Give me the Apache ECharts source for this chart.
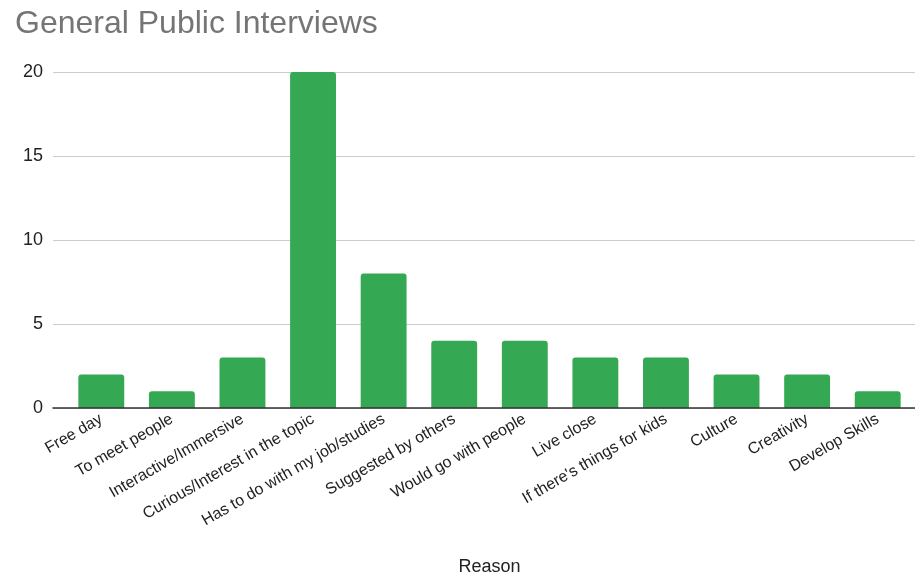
<!DOCTYPE html>
<html><head><meta charset="utf-8">
<script src="https://cdn.jsdelivr.net/npm/echarts@6/dist/echarts.min.js"></script>
<style>html,body{margin:0;padding:0;background:#fff}#c{width:915px;height:579px}</style>
</head><body><div id="c"></div>
<script>
const categories = ["Free day","To meet people","Interactive/Immersive","Curious/Interest in the topic","Has to do with my job/studies","Suggested by others","Would go with people","Live close","If there's things for kids","Culture","Creativity","Develop Skills"];
const values = [2,1,3,20,8,4,4,3,3,2,2,1];
const yTicks = [0,5,10,15,20];
const chart = echarts.init(document.getElementById('c'));
const yMin = yTicks[0], yMax = yTicks[yTicks.length-1];
chart.setOption({
  animation:false,
  title:{text:'General Public Interviews',left:10,top:3,textStyle:{fontFamily:'Liberation Sans',fontSize:32,fontWeight:'normal',color:'#757575'}},
  grid:[
    {left:66,right:2,top:72,bottom:171,outerBoundsMode:'none',containLabel:false},
    {left:53,right:0,top:72,bottom:171,outerBoundsMode:'none',containLabel:false}
  ],
  xAxis:[
    {type:'category',gridIndex:0,data:categories,name:'Reason',nameLocation:'middle',nameGap:150,
    nameTextStyle:{fontFamily:'Liberation Sans',fontSize:18,color:'#222'},
    axisTick:{show:false},axisLine:{show:false},
    axisLabel:{rotate:30,interval:0,fontFamily:'Liberation Sans',fontSize:16,color:'#222',margin:10}},
    {type:'value',gridIndex:1,min:0,max:1,axisLabel:{show:false},axisTick:{show:false},splitLine:{show:false},
     axisLine:{show:true,lineStyle:{color:'#333',width:1.5}},z:10}
  ],
  yAxis:[
    {type:'value',gridIndex:0,min:yMin,max:yMax,interval:5,axisLabel:{show:false},axisLine:{show:false},axisTick:{show:false},splitLine:{show:false}},
    {type:'value',gridIndex:1,min:yMin,max:yMax,interval:5,axisLine:{show:false},axisTick:{show:false},
    axisLabel:{fontFamily:'Liberation Sans',fontSize:18,color:'#222',margin:10},
    splitLine:{lineStyle:{color:'#ccc'}}}
  ],
  series:[{type:'bar',xAxisIndex:0,yAxisIndex:0,data:values,barCategoryGap:'35%',itemStyle:{color:'#34a853',borderRadius:[3,3,0,0]}}]
});
</script></body></html>
